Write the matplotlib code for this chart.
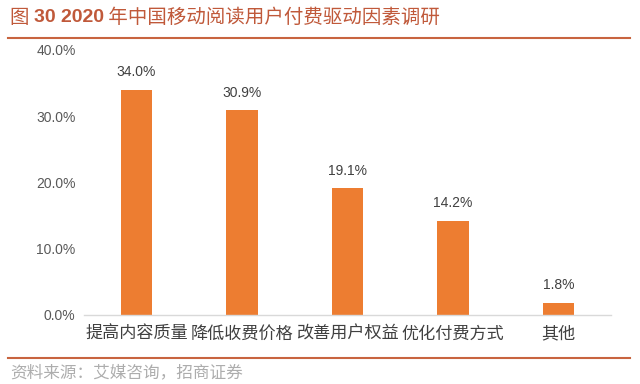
import matplotlib
matplotlib.use("Agg")
import matplotlib.pyplot as plt
from matplotlib.lines import Line2D

plt.rcParams['font.family'] = ['Noto Sans CJK SC', 'DejaVu Sans']

categories = ["提高内容质量", "降低收费价格", "改善用户权益", "优化付费方式", "其他"]
values = [34.0, 30.9, 19.1, 14.2, 1.8]
yticks = [0, 10, 20, 30, 40]
title_parts = ["图 ", "30 2020", " 年中国移动阅读用户付费驱动因素调研"]
source = "资料来源：艾媒咨询，招商证券"

bar_color = "#ED7D31"
accent = "#C8643F"
title_color = "#C0593A"

fig = plt.figure(figsize=(6.4, 3.84), dpi=100)
ax = fig.add_axes([0.131, 0.180, 0.824, 0.690])

x = range(len(categories))
ax.bar(x, values, width=0.3, color=bar_color)
for xi, v in zip(x, values):
    ax.text(xi, v + 1.6, f"{v:.1f}%", ha="center", va="bottom",
            fontsize=10, color="#404040", family=["Liberation Sans", "DejaVu Sans"])

ax.set_xlim(-0.5, len(categories) - 0.5)
ax.set_ylim(0, 40)
ax.set_yticks(yticks)
ax.set_yticklabels([f"{t:.1f}%" for t in yticks], fontsize=10, color="#595959",
                   family=["Liberation Sans", "DejaVu Sans"])
ax.set_xticks(list(x))
ax.set_xticklabels(categories, fontsize=12.3, color="#404040")
ax.tick_params(axis="both", length=0)
ax.tick_params(axis="y", pad=6)
ax.tick_params(axis="x", pad=7)
for s in ["top", "right", "left"]:
    ax.spines[s].set_visible(False)
ax.spines["bottom"].set_color("#D9D9D9")
ax.spines["bottom"].set_linewidth(1.0)

t1 = fig.text(0.016, 0.955, title_parts[0], fontsize=14, color=title_color,
              ha="left", va="center")
t2 = fig.text(0, 0, title_parts[1], fontsize=14, fontweight="bold", color=title_color,
              ha="left", va="center", family=["Liberation Sans", "DejaVu Sans"])
t3 = fig.text(0, 0, title_parts[2], fontsize=14, color=title_color,
              ha="left", va="center")
fig.canvas.draw()
r = fig.canvas.get_renderer()
bb1 = t1.get_window_extent(r)
t2.set_position((bb1.x1 / fig.bbox.width, 0.955))
bb2 = t2.get_window_extent(r)
t3.set_position((bb2.x1 / fig.bbox.width, 0.955))

fig.add_artist(Line2D([0.013, 0.985], [0.901, 0.901], color=accent, lw=1.5,
                      transform=fig.transFigure))
fig.add_artist(Line2D([0.013, 0.985], [0.068, 0.068], color=accent, lw=1.5,
                      transform=fig.transFigure))
fig.text(0.016, 0.030, source, fontsize=12, color="#ADADAD", ha="left", va="center")

fig.savefig("out.png", dpi=100)
